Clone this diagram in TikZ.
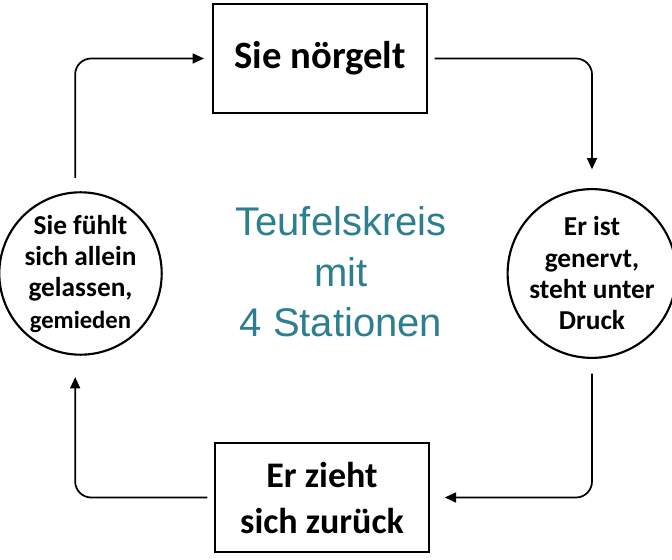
\documentclass[tikz,border=0pt]{standalone}
\usepackage{fontspec}
\setmainfont{Carlito}
\newfontfamily\arialfont{Liberation Sans}
\usepackage{tikz}
\usetikzlibrary{positioning}
\usetikzlibrary{shapes}
\usetikzlibrary{arrows.meta}
\definecolor{kreisteal}{RGB}{46,126,146}

\tikzset{
	station/.style={draw, line width=1.6pt, rectangle, minimum width=160.5pt, minimum height=82pt, align=center, font=\bfseries\fontsize{29}{34.5}\selectfont},
	gefuehl/.style={draw, line width=1.6pt, circle, minimum size=117pt, inner sep=0pt, align=center, font=\bfseries\fontsize{20.5}{23.5}\selectfont},
	pfeil/.style={-{Triangle[length=8.5pt,width=7.5pt]}, line width=1.3pt, rounded corners=12pt},
}

\begin{document}
\begin{tikzpicture}[x=0.75pt, y=-0.75pt]
			\useasboundingbox (0,0) rectangle (672,560);
			\fill[white] (0,0) rectangle (672,560);

			\node[station] (noergeln) at (320,58.5) {Sie nörgelt};
			\node[station, font=\bfseries\fontsize{27}{34.5}\selectfont] (rueckzug) at (322,497.5) {Er zieht\\sich zurück};
			\node[gefuehl] (allein) at (80.5,273.5) {Sie fühlt\\sich allein\\gelassen,\\{\fontsize{18.5}{23.5}\selectfont gemieden}};
			\node[gefuehl] (genervt) at (592,273.5) {Er ist\\genervt,\\steht unter\\Druck};

			\node[font=\arialfont\fontsize{30}{38}\selectfont, text=kreisteal, align=center] (titel) at (341,272) {Teufelskreis\\mit\\4 Stationen};

			\draw[pfeil, shorten <=10pt, shorten >=6pt] ([xshift=-4pt]allein.north) |- (noergeln.west);
			\draw[pfeil, shorten <=5pt, shorten >=14pt] (noergeln.east) -| (genervt.north);
			\draw[pfeil, shorten <=11pt, shorten >=11pt] (genervt.south) |- (rueckzug.east);
			\draw[pfeil, shorten <=5pt, shorten >=16pt] (rueckzug.west) -| ([xshift=-4pt]allein.south);
\end{tikzpicture}
\end{document}
